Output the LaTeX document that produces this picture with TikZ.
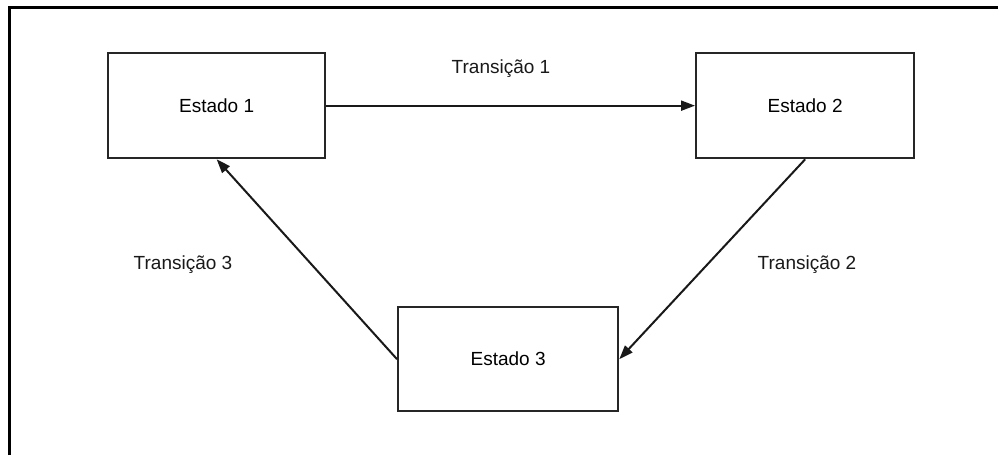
\documentclass[tikz,border=0pt]{standalone}
\usepackage{fontspec}
\setmainfont{Liberation Sans}
\usetikzlibrary{arrows.meta}
\begin{document}
\begin{tikzpicture}[x=1pt,y=-1pt,
  state/.style={draw=black!85, line width=2.3pt, rectangle, anchor=north west, inner sep=0pt,
    font=\fontsize{19}{22}\selectfont},
  trans/.style={draw=black!90, line width=2pt, -{Triangle[length=14pt,width=10pt]}},
  tlabel/.style={anchor=base, inner sep=0pt, font=\fontsize{19}{22}\selectfont, text=black!90}]
\useasboundingbox (0,0) rectangle (998,455);
\fill[white] (0,0) rectangle (998,455);
% outer frame (left and top edges)
\draw[line width=3pt] (9,455) -- (9,7) -- (998,7);
% states
\node[state, minimum width=217pt, minimum height=105pt] (e1) at (107,52) {Estado 1};
\node[state, minimum width=218pt, minimum height=105pt] (e2) at (695,52) {Estado 2};
\node[state, minimum width=220pt, minimum height=104pt] (e3) at (397,306) {Estado 3};
% transitions
\draw[trans] (e1.east) -- (e2.west);
\draw[trans] (e2.south) -- (e3.east);
\draw[trans] (e3.west) -- (e1.south);
% labels
\node[tlabel] (t1) at (501,73) {Transição 1};
\node[tlabel] (t2) at (807,269) {Transição 2};
\node[tlabel] (t3) at (183,269) {Transição 3};
\end{tikzpicture}
\end{document}
